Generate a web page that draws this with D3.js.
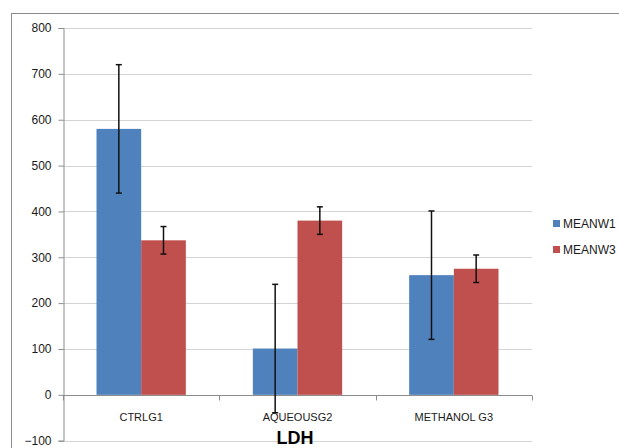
<!DOCTYPE html>
<html><head><meta charset="utf-8">
<script src="https://cdn.jsdelivr.net/npm/d3@7"></script>
<style>html,body{margin:0;padding:0;background:#fff;overflow:hidden}</style>
</head><body>
<svg id="c" width="619" height="448"></svg>
<script>
const categories = ["CTRLG1", "AQUEOUSG2", "METHANOL G3"];
const seriesNames = ["MEANW1", "MEANW3"];
const meanW1 = [580, 101, 261];
const meanW3 = [337, 380, 275];
const errW1 = [140, 140, 140];
const errW3 = [30, 30, 30];
const yTicks = [-100, 0, 100, 200, 300, 400, 500, 600, 700, 800];
const colors = ["#4f81bd", "#c0504d"];
const title = "LDH";

const svg = d3.select("#c");
const font = "'Liberation Sans', Arial, sans-serif";
const L = 63, R = 532, T = 28, B = 440.7;

svg.append("rect").attr("x", 11.5).attr("y", 13.5).attr("width", 800).attr("height", 600)
  .attr("fill", "#fff").attr("stroke", "#8c8c8c").attr("stroke-width", 1);

const y = d3.scaleLinear().domain([-100, 800]).range([B, T]);
const x0 = d3.scaleBand().domain(categories).range([L, R]).padding(0);
const bw = x0.bandwidth() / 3.5;
const x1 = d3.scaleBand().domain(seriesNames).range([0.75 * bw, 2.75 * bw]).padding(0);

// gridlines
svg.append("g").selectAll("line").data(yTicks).join("line")
  .attr("x1", L).attr("x2", R)
  .attr("y1", d => Math.round(y(d)) + 0.5).attr("y2", d => Math.round(y(d)) + 0.5)
  .attr("stroke", "#d4d4d4").attr("stroke-width", 1.2);

// y axis
const yAxis = svg.append("g").attr("transform", `translate(${L + 0.5},0)`)
  .call(d3.axisLeft(y).tickValues(yTicks).tickSize(5).tickPadding(7).tickFormat(d3.format("d")));
yAxis.select(".domain").attr("stroke", "#8c8c8c");
yAxis.selectAll(".tick line").attr("stroke", "#8c8c8c");
yAxis.selectAll("text").attr("font-family", font).attr("font-size", 12).attr("fill", "#1a1a1a");

// bars
const data = [];
categories.forEach((c, i) => {
  data.push({c, s: seriesNames[0], v: meanW1[i], e: errW1[i], col: colors[0]});
  data.push({c, s: seriesNames[1], v: meanW3[i], e: errW3[i], col: colors[1]});
});
svg.append("g").selectAll("rect").data(data).join("rect")
  .attr("x", d => x0(d.c) + x1(d.s))
  .attr("width", x1.bandwidth())
  .attr("y", d => y(Math.max(0, d.v)))
  .attr("height", d => Math.abs(y(d.v) - y(0)))
  .attr("fill", d => d.col);

// x axis at 0
const xg = svg.append("g").attr("transform", `translate(0,${Math.round(y(0)) + 0.5})`);
xg.append("line").attr("x1", L).attr("x2", R).attr("stroke", "#8c8c8c");
xg.selectAll("line.tk").data(categories.map(c => x0(c)).concat([R])).join("line")
  .attr("class", "tk").attr("x1", d => Math.round(d) + 0.5).attr("x2", d => Math.round(d) + 0.5)
  .attr("y1", 0).attr("y2", 5).attr("stroke", "#8c8c8c");
xg.selectAll("text").data(categories).join("text")
  .attr("x", d => x0(d) + x0.bandwidth() / 2).attr("y", 25)
  .attr("text-anchor", "middle").attr("font-family", font).attr("font-size", 11).attr("fill", "#1a1a1a")
  .text(d => d);

// error bars
const eg = svg.append("g").attr("stroke", "#111").attr("stroke-width", 1.5);
data.forEach(d => {
  const cx = x0(d.c) + x1(d.s) + x1.bandwidth() / 2;
  eg.append("line").attr("x1", cx).attr("x2", cx).attr("y1", y(d.v + d.e)).attr("y2", y(d.v - d.e));
  eg.append("line").attr("x1", cx - 3).attr("x2", cx + 3).attr("y1", y(d.v + d.e)).attr("y2", y(d.v + d.e));
  eg.append("line").attr("x1", cx - 3).attr("x2", cx + 3).attr("y1", y(d.v - d.e)).attr("y2", y(d.v - d.e));
});

// legend
const lg = svg.append("g");
seriesNames.forEach((s, i) => {
  const ly = 223.5 + i * 26;
  lg.append("rect").attr("x", 553).attr("y", ly - 3.5).attr("width", 7).attr("height", 7).attr("fill", colors[i]);
  lg.append("text").attr("x", 563).attr("y", ly + 4.5).attr("font-family", font).attr("font-size", 12)
    .attr("fill", "#1a1a1a").text(s);
});

// title
svg.append("text").attr("x", 295).attr("y", 443.5).attr("text-anchor", "middle")
  .attr("font-family", font).attr("font-size", 18).attr("font-weight", "bold").attr("fill", "#000").text(title);
</script>
</body></html>
